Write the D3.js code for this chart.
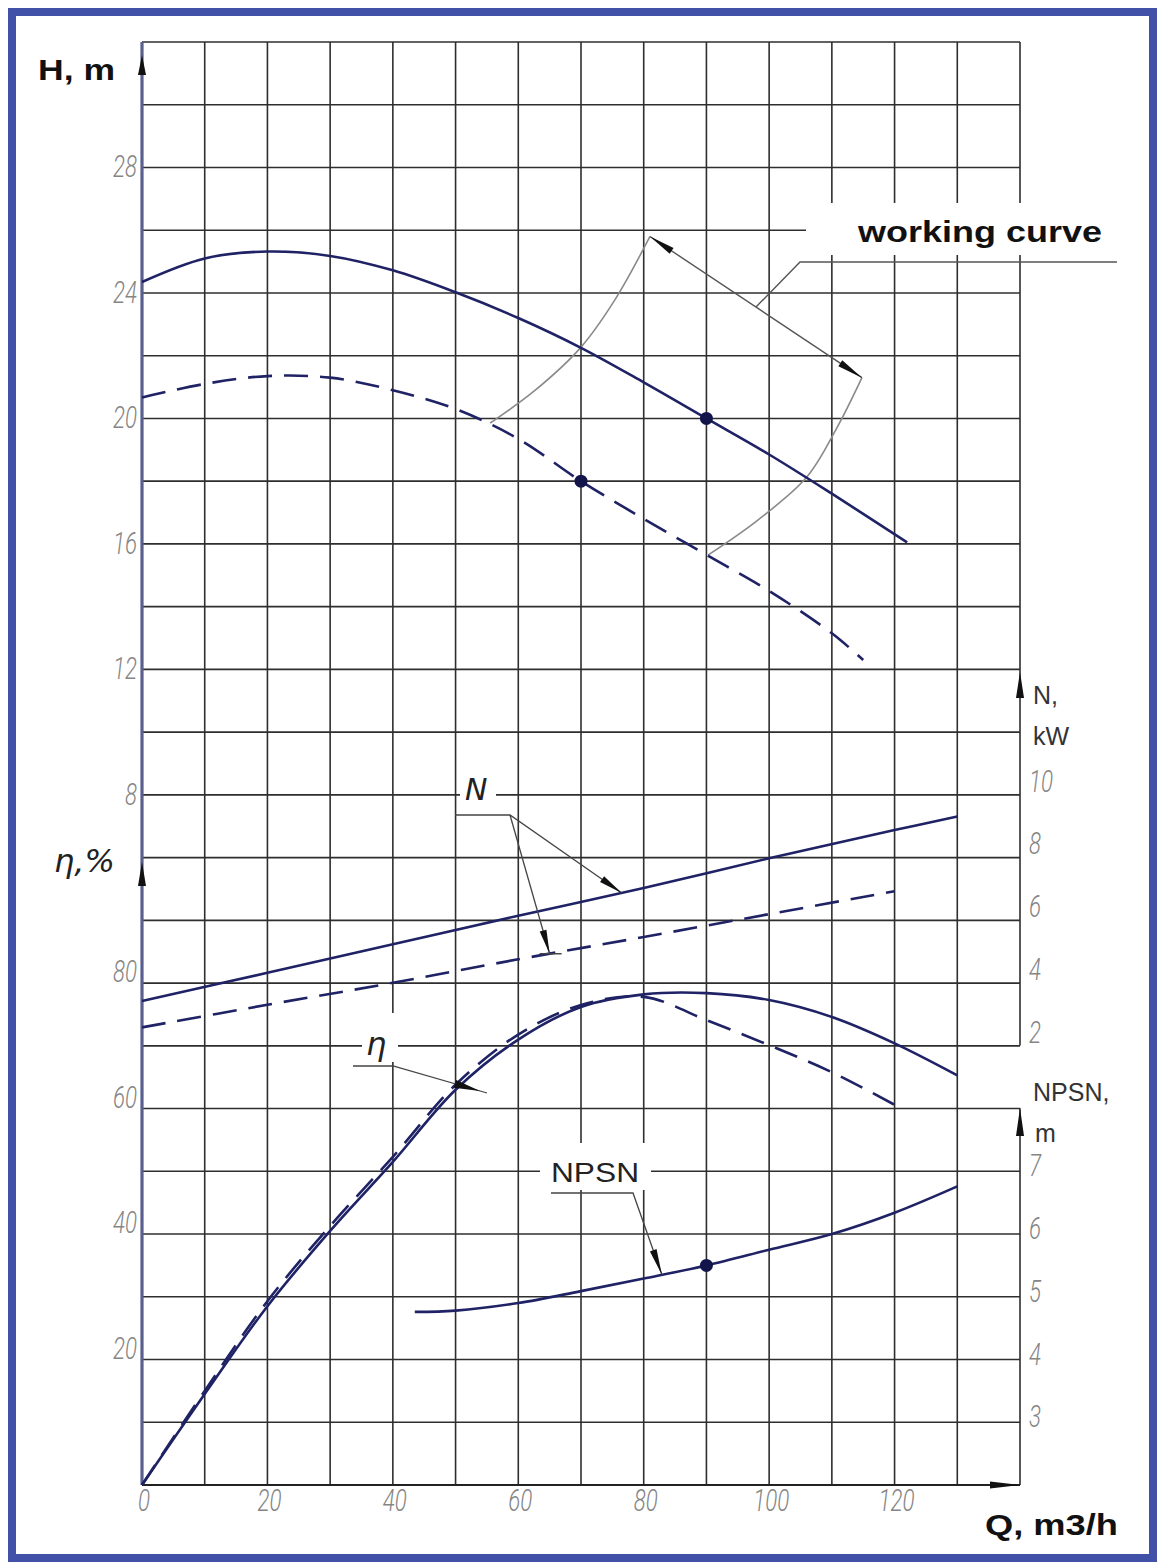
<!DOCTYPE html>
<html>
<head>
<meta charset="utf-8">
<script src="https://cdn.jsdelivr.net/npm/d3@7"></script>
<style>
  body { margin: 0; background: #fff; }
  .tick { font-family: Roboto, "Liberation Sans", sans-serif; font-style: italic; font-weight: 300; fill: #858585; font-size: 31px; }
</style>
</head>
<body>
<div id="chart"></div>
<script>
// tick labels
var qTicks = [0, 20, 40, 60, 80, 100, 120];
var hTicks = [28, 24, 20, 16, 12, 8];
var etaTicks = [80, 60, 40, 20];
var nTicks = [10, 8, 6, 4, 2];
var npshTicks = [7, 6, 5, 4, 3];

// head, working impeller (solid) and trimmed (dashed)
var qHead = [0, 10, 20, 30, 40, 50, 60, 70, 80, 90, 100, 110, 122];
var headFull = [24.35, 25.1, 25.32, 25.18, 24.72, 24.02, 23.2, 22.25, 21.15, 20.0, 18.85, 17.6, 16.05];
var qHeadCut = [0, 10, 20, 30, 40, 50, 60, 70, 80, 90, 100, 110, 115];
var headCut = [20.67, 21.1, 21.35, 21.3, 20.9, 20.3, 19.35, 18.0, 16.8, 15.65, 14.5, 13.15, 12.3];

// power N, kW
var qPower = [0, 20, 40, 60, 80, 100, 120, 130];
var powerFull = [3.42, 4.32, 5.23, 6.14, 7.02, 7.97, 8.87, 9.3];
var qPowerCut = [0, 20, 40, 60, 80, 100, 120];
var powerCut = [2.58, 3.3, 4.0, 4.75, 5.46, 6.19, 6.92];

// efficiency, %
var qEta = [0, 10, 20, 30, 40, 50, 60, 70, 80, 90, 100, 110, 120, 130];
var etaFull = [0, 14.5, 28.5, 40.5, 51.5, 63, 71, 76.2, 78.2, 78.4, 77.3, 74.6, 70.4, 65.3];
var qEtaCut = [0, 10, 20, 30, 40, 50, 60, 70, 80, 90, 100, 110, 120];
var etaCut = [0, 15, 29.3, 41.3, 52.3, 63.8, 71.8, 76.5, 77.8, 74.1, 70.1, 65.8, 60.6];

// NPSH, m
var qNpsh = [43.5, 50, 60, 70, 80, 90, 100, 110, 120, 130];
var npsh = [4.76, 4.78, 4.9, 5.09, 5.29, 5.5, 5.75, 6.0, 6.34, 6.76];

// duty points
var headPoints = [[90, 20], [70, 18]];
var npshPoints = [[90, 5.5]];

// working range boundaries (Q, H)
var qBoundLeft = [55.5, 62.7, 69.9, 75.4, 81];
var hBoundLeft = [19.85, 20.9, 22.25, 23.78, 25.8];
var qBoundRight = [90.3, 98.2, 106, 110.8, 114.8];
var hBoundRight = [15.65, 16.76, 18.13, 19.7, 21.3];

var W = 1161, H = 1564;
var svg = d3.select("#chart").append("svg").attr("width", W).attr("height", H);

var x = d3.scaleLinear().domain([0, 140]).range([142, 1020]);
var yH = d3.scaleLinear().domain([-14, 32]).range([1485, 42]);
var yEta = d3.scaleLinear().domain([0, 100]).range([1485, 857.6]);
var yN = d3.scaleLinear().domain([0, 10]).range([1108.3, 794.6]);
var yNp = d3.scaleLinear().domain([2, 7]).range([1485, 1171.3]);

var ink = "#1f2264";
var gridCol = "#2e2e2e";

// outer blue frame
svg.append("rect").attr("x", 12).attr("y", 12).attr("width", 1141).attr("height", 1546)
  .attr("fill", "none").attr("stroke", "#4251a8").attr("stroke-width", 8);

// grid
var g = svg.append("g");
d3.range(0, 131, 10).forEach(function (q) {
  g.append("line").attr("x1", x(q)).attr("x2", x(q)).attr("y1", 42).attr("y2", 1485)
    .attr("stroke", gridCol).attr("stroke-width", 1.6);
});
// right border: N axis and NPSH axis
g.append("line").attr("x1", x(140)).attr("x2", x(140)).attr("y1", 42).attr("y2", yN(2))
  .attr("stroke", gridCol).attr("stroke-width", 1.6);
g.append("line").attr("x1", x(140)).attr("x2", x(140)).attr("y1", yN(0)).attr("y2", 1485)
  .attr("stroke", gridCol).attr("stroke-width", 1.6);
d3.range(-14, 33, 2).forEach(function (h) {
  g.append("line").attr("x1", x(0)).attr("x2", x(140)).attr("y1", yH(h)).attr("y2", yH(h))
    .attr("stroke", gridCol).attr("stroke-width", 1.6);
});

// white boxes behind the callout labels
var boxes = [[806, 203, 320, 52], [460, 772, 36, 34], [362, 1013, 36, 49], [540, 1143, 111, 47]];
boxes.forEach(function (b) {
  svg.append("rect").attr("x", b[0]).attr("y", b[1]).attr("width", b[2]).attr("height", b[3]).attr("fill", "#fff");
});

// main axes
svg.append("line").attr("x1", x(0)).attr("x2", x(0)).attr("y1", 42).attr("y2", 1485)
  .attr("stroke", "#5a5f8e").attr("stroke-width", 3.2);
svg.append("line").attr("x1", x(0)).attr("x2", x(140)).attr("y1", 1485).attr("y2", 1485)
  .attr("stroke", "#222").attr("stroke-width", 2.2);

function arrow(tx, ty, ang, len, hw, col) {
  var c = Math.cos(ang), s = Math.sin(ang);
  var bx = tx - c * len, by = ty - s * len;
  var p = [[tx, ty], [bx - s * hw, by + c * hw], [bx + s * hw, by - c * hw]];
  svg.append("path").attr("d", "M" + p.join("L") + "Z").attr("fill", col || "#111");
}
var up = -Math.PI / 2;
arrow(x(0), 55, up, 20, 4);
arrow(x(0), 862, up, 24, 4);
arrow(x(140), 672, up, 26, 4);
arrow(x(140), 1108, up, 28, 4);
arrow(x(140), 1485, 0, 30, 3.5);

// tick labels, narrow italic drafting style
function tickText(data, fx, fy, anchor) {
  svg.append("g").selectAll("text").data(data).enter().append("text").attr("class", "tick")
    .attr("text-anchor", anchor)
    .attr("transform", function (d) { return "translate(" + fx(d) + "," + fy(d) + ") scale(0.72,1)"; })
    .text(function (d) { return d; });
}
tickText(qTicks, function (d) { return x(d) + 2; }, function () { return 1511; }, "middle");
tickText(hTicks, function () { return 137; }, function (d) { return yH(d) + 10; }, "end");
tickText(etaTicks, function () { return 137; }, function (d) { return yEta(d) - 1; }, "end");
tickText(nTicks, function () { return 1029; }, function (d) { return yN(d) - 3; }, "start");
tickText(npshTicks, function () { return 1029; }, function (d) { return yNp(d) + 5; }, "start");

// axis titles
var bold = "'Liberation Sans', Arial, sans-serif";
svg.append("text").attr("x", 38).attr("y", 80).attr("font-family", bold).attr("font-weight", "bold")
  .attr("font-size", 29).attr("textLength", 77).attr("lengthAdjust", "spacingAndGlyphs").attr("fill", "#111").text("H, m");
svg.append("text").attr("x", 985).attr("y", 1535).attr("font-family", bold).attr("font-weight", "bold")
  .attr("font-size", 29).attr("textLength", 133).attr("lengthAdjust", "spacingAndGlyphs").attr("fill", "#111").text("Q, m3/h");
svg.append("text").attr("x", 54).attr("y", 872).attr("font-family", "'DejaVu Sans', sans-serif").attr("font-style", "italic")
  .attr("font-size", 32).attr("fill", "#222").text("η,%");
[["N,", 1033, 704], ["kW", 1033, 745], ["NPSN,", 1033, 1101], ["m", 1035, 1142]].forEach(function (t) {
  svg.append("text").attr("x", t[1]).attr("y", t[2]).attr("font-family", bold)
    .attr("font-size", 25).attr("fill", "#333").text(t[0]);
});

// working range boundaries and dimension
function pts(qs, vs, ys) { return qs.map(function (q, i) { return [x(q), ys(vs[i])]; }); }
var line = d3.line().curve(d3.curveCatmullRom.alpha(0.5));
svg.append("path").attr("d", line(pts(qBoundLeft, hBoundLeft, yH))).attr("fill", "none").attr("stroke", "#8a8a8a").attr("stroke-width", 1.6);
svg.append("path").attr("d", line(pts(qBoundRight, hBoundRight, yH))).attr("fill", "none").attr("stroke", "#8a8a8a").attr("stroke-width", 1.6);
var d1 = [x(qBoundLeft[4]), yH(hBoundLeft[4])], d2 = [x(qBoundRight[4]), yH(hBoundRight[4])];
svg.append("line").attr("x1", d1[0]).attr("y1", d1[1]).attr("x2", d2[0]).attr("y2", d2[1]).attr("stroke", "#555").attr("stroke-width", 1.4);
var dang = Math.atan2(d2[1] - d1[1], d2[0] - d1[0]);
arrow(d1[0], d1[1], dang + Math.PI, 26, 3.5);
arrow(d2[0], d2[1], dang, 26, 3.5);
var dm = [d1[0] + (d2[0] - d1[0]) * 0.5, d1[1] + (d2[1] - d1[1]) * 0.5];
svg.append("path").attr("d", "M" + dm + "L800,262L1117,262").attr("fill", "none").attr("stroke", "#555").attr("stroke-width", 1.4);
svg.append("text").attr("x", 858).attr("y", 242).attr("font-family", bold)
  .attr("font-weight", "bold").attr("font-size", 30).attr("textLength", 244).attr("lengthAdjust", "spacingAndGlyphs")
  .attr("fill", "#111").text("working curve");

// curves
function curve(qs, vs, ys, dashed) {
  svg.append("path").attr("d", line(pts(qs, vs, ys))).attr("fill", "none").attr("stroke", ink)
    .attr("stroke-width", 2.6).attr("stroke-dasharray", dashed ? "24,12" : null);
}
curve(qHead, headFull, yH, false);
curve(qHeadCut, headCut, yH, true);
curve(qPower, powerFull, yN, false);
curve(qPowerCut, powerCut, yN, true);
curve(qEta, etaFull, yEta, false);
curve(qEtaCut, etaCut, yEta, true);
curve(qNpsh, npsh, yNp, false);

svg.selectAll(".hp").data(headPoints).enter().append("circle")
  .attr("cx", function (d) { return x(d[0]); }).attr("cy", function (d) { return yH(d[1]); }).attr("r", 6.5).attr("fill", "#12144a");
svg.selectAll(".np").data(npshPoints).enter().append("circle")
  .attr("cx", function (d) { return x(d[0]); }).attr("cy", function (d) { return yNp(d[1]); }).attr("r", 6.5).attr("fill", "#12144a");

// callouts
function interp(qs, vs, q) {
  return d3.scaleLinear().domain(qs).range(vs)(q);
}
var lead = "#444";
// N
svg.append("text").attr("x", 465).attr("y", 800).attr("font-family", "'DejaVu Sans', sans-serif").attr("font-style", "italic")
  .attr("font-size", 30).attr("fill", "#222").text("N");
var nTip1 = [x(76.5), yN(interp(qPower, powerFull, 76.5))];
var nTip2 = [x(65), yN(interp(qPowerCut, powerCut, 65))];
svg.append("path").attr("d", "M455,815L510,815L" + nTip1).attr("fill", "none").attr("stroke", lead).attr("stroke-width", 1.3);
svg.append("path").attr("d", "M510,815L" + nTip2).attr("fill", "none").attr("stroke", lead).attr("stroke-width", 1.3);
arrow(nTip1[0], nTip1[1], Math.atan2(nTip1[1] - 815, nTip1[0] - 510), 24, 3.5);
arrow(nTip2[0], nTip2[1], Math.atan2(nTip2[1] - 815, nTip2[0] - 510), 24, 3.5);
svg.append("line").attr("x1", nTip2[0] - 10).attr("x2", nTip2[0] + 12).attr("y1", nTip2[1]).attr("y2", nTip2[1]).attr("stroke", lead).attr("stroke-width", 1.5);
// eta
svg.append("text").attr("x", 366).attr("y", 1055).attr("font-family", "'DejaVu Sans', sans-serif").attr("font-style", "italic")
  .attr("font-size", 32).attr("fill", "#222").text("η");
svg.append("path").attr("d", "M353,1066L393,1066L487,1093").attr("fill", "none").attr("stroke", lead).attr("stroke-width", 1.3);
arrow(480, 1091, Math.atan2(27, 94), 26, 4);
// NPSN
svg.append("text").attr("x", 551).attr("y", 1182).attr("font-family", bold)
  .attr("font-size", 27).attr("textLength", 88).attr("lengthAdjust", "spacingAndGlyphs").attr("fill", "#222").text("NPSN");
var pTip = [x(82.9), yNp(interp(qNpsh, npsh, 82.9))];
svg.append("path").attr("d", "M551,1193L633,1193L" + pTip).attr("fill", "none").attr("stroke", lead).attr("stroke-width", 1.3);
arrow(pTip[0], pTip[1], Math.atan2(pTip[1] - 1193, pTip[0] - 633), 26, 3.5);
</script>
</body>
</html>
